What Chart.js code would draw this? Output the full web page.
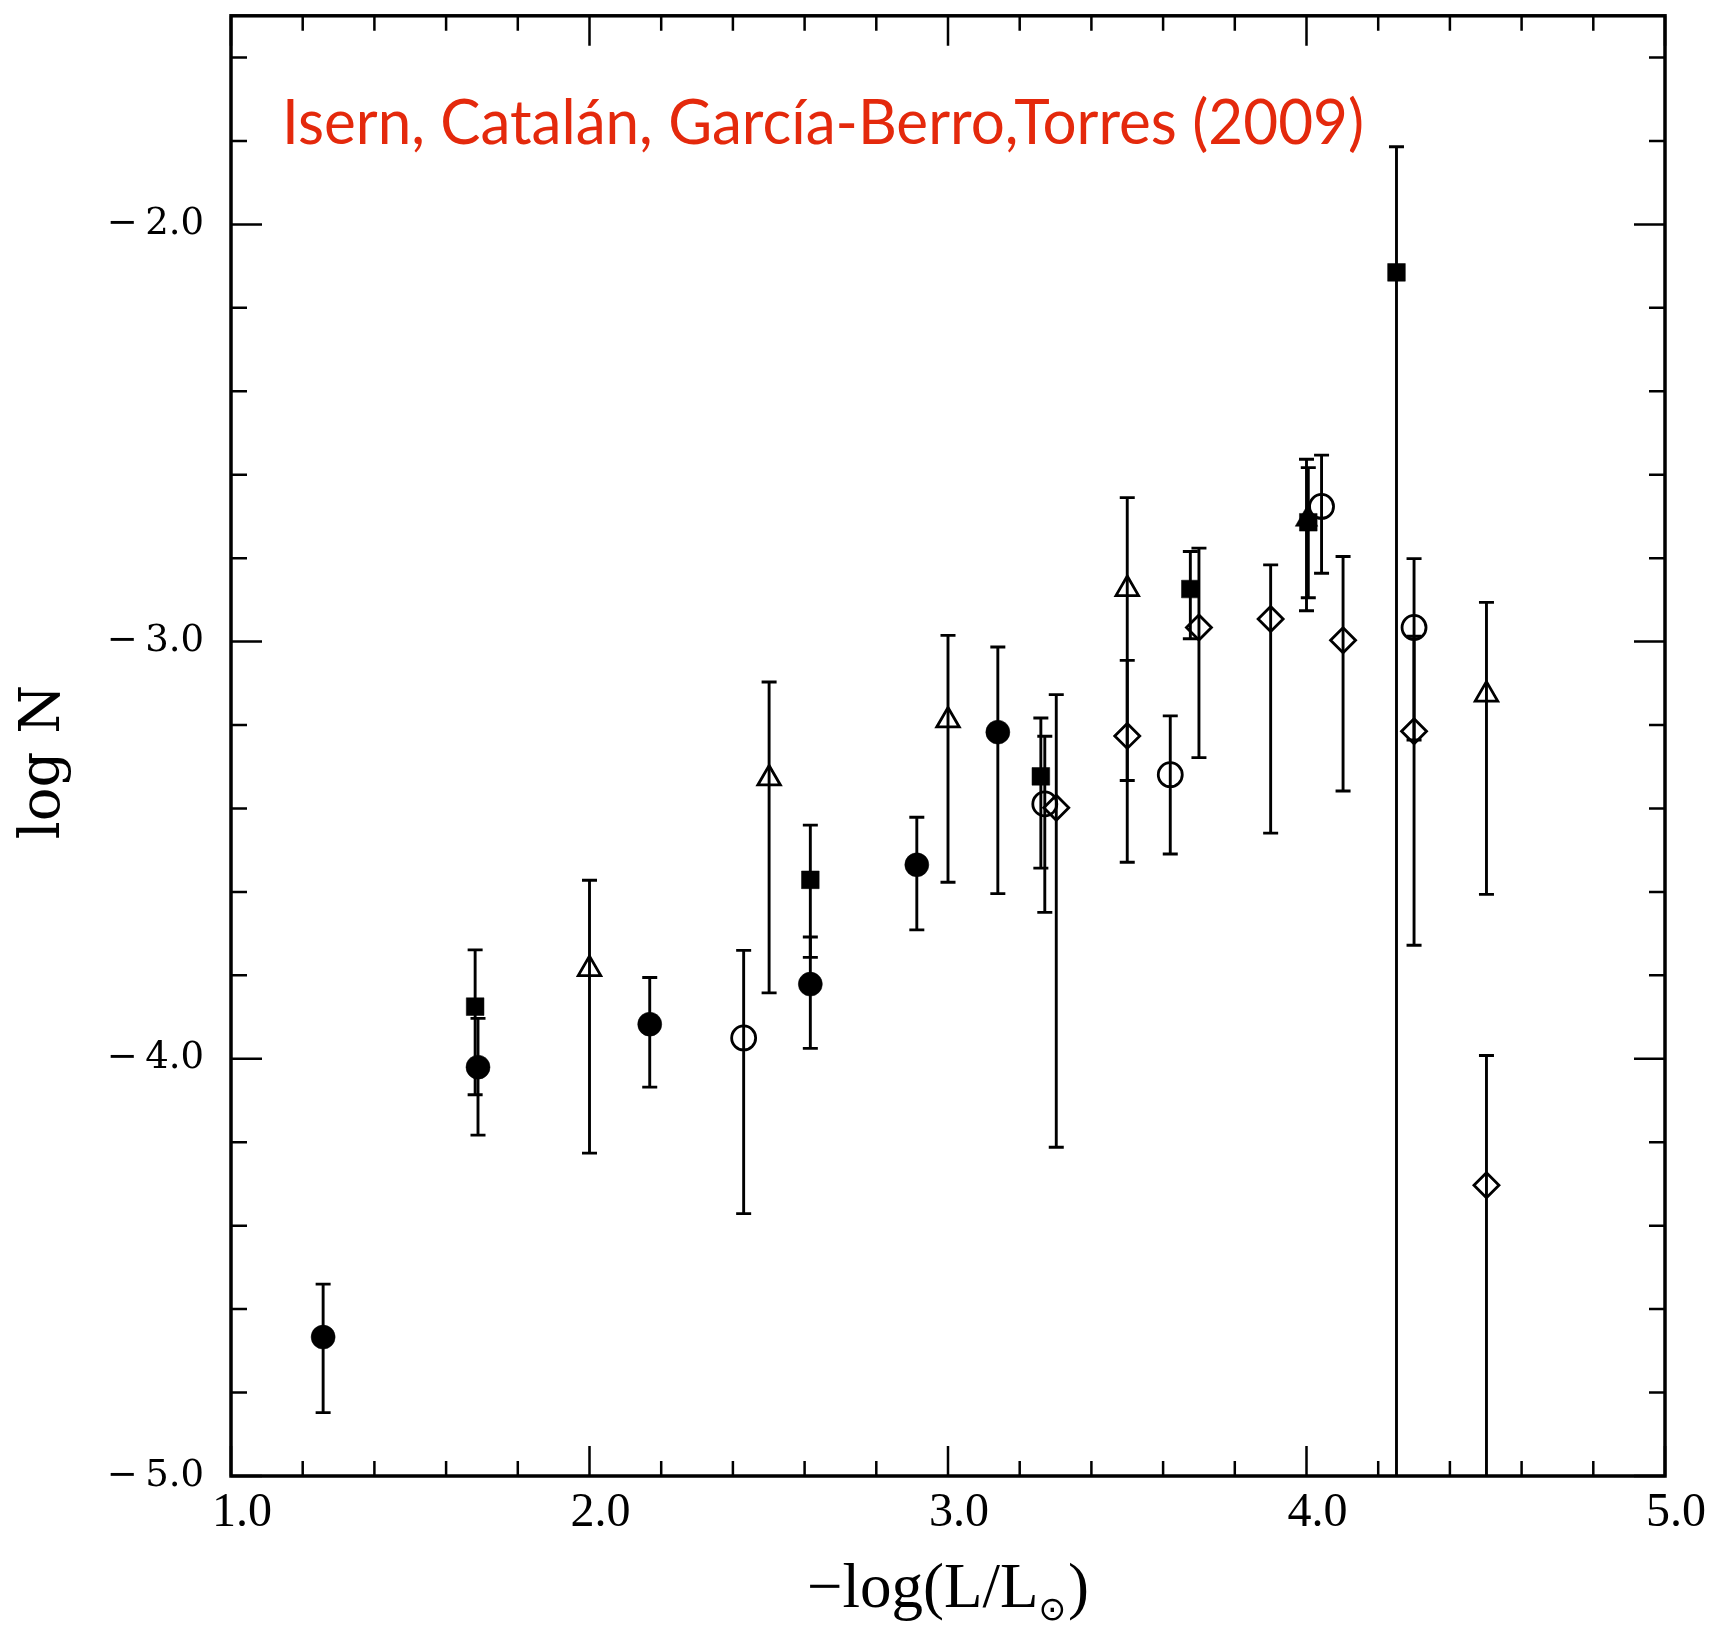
<!DOCTYPE html>
<html>
<head>
<meta charset="utf-8">
<script src="https://cdn.jsdelivr.net/npm/chart.js@4.4.1/dist/chart.umd.min.js"></script>
<style>
html,body{margin:0;padding:0;background:#fff;}
#wrap{width:1719px;height:1627px;position:relative;}
</style>
</head>
<body>
<div id="wrap"><canvas id="c" width="1719" height="1627"></canvas></div>
<script>
// ---------- data (x = -log(L/Lsun), y = log N, hi/lo = error bar ends) ----------
// filled circles
const fcX  = [1.257, 1.689, 2.168, 2.616, 2.913, 3.139];
const fcY  = [-4.667, -4.020, -3.917, -3.821, -3.535, -3.217];
const fcHi = [-4.540, -3.903, -3.805, -3.708, -3.421, -3.013];
const fcLo = [-4.848, -4.183, -4.068, -3.975, -3.691, -3.604];
// filled squares
const fsX  = [1.681, 2.616, 3.259, 3.676, 4.005, 4.251];
const fsY  = [-3.875, -3.571, -3.323, -2.874, -2.714, -2.115];
const fsHi = [-3.739, -3.440, -3.183, -2.784, -2.583, -1.814];
const fsLo = [-4.086, -3.757, -3.543, -2.993, -2.895, -5.600];
// open triangles
const otX  = [2.000, 2.501, 3.000, 3.500, 4.502];
const otY  = [-3.785, -3.328, -3.189, -2.874, -3.127];
const otHi = [-3.572, -3.097, -2.985, -2.655, -2.906];
const otLo = [-4.226, -3.842, -3.577, -3.333, -3.606];
// filled triangle
const ftX  = [4.000];
const ftY  = [-2.708];
const ftHi = [-2.563];
const ftLo = [-2.926];
// open circles
const ocX  = [2.430, 3.270, 3.620, 4.042, 4.300];
const ocY  = [-3.950, -3.389, -3.319, -2.676, -2.966];
const ocHi = [-3.740, -3.227, -3.178, -2.553, -2.801];
const ocLo = [-4.371, -3.649, -3.509, -2.836, -3.236];
// open diamonds
const odX  = [3.302, 3.500, 3.700, 3.900, 4.102, 4.300, 4.502];
const odY  = [-3.398, -3.226, -2.966, -2.946, -2.997, -3.215, -4.303];
const odHi = [-3.127, -3.045, -2.776, -2.816, -2.796, -2.987, -3.992];
const odLo = [-4.212, -3.529, -3.278, -3.459, -3.358, -3.728, -5.600];

// ticks
const xTickValues = [1, 2, 3, 4, 5];
const xTickLabels = ['1.0', '2.0', '3.0', '4.0', '5.0'];
const yTickValues = [-5, -4, -3, -2];
const yTickLabels = ['\u2212\u20095.0', '\u2212\u20094.0', '\u2212\u20093.0', '\u2212\u20092.0'];

const titleText = 'Isern, Catal\u00e1n, Garc\u00eda-Berro,Torres (2009)';
const xTitleMain = '\u2212log(L/L';
const xTitleSub = '\u2299';
const xTitleEnd = ')';
const yTitle = 'log N';

// ---------- build ----------
const series = [
  {x: fcX, y: fcY, hi: fcHi, lo: fcLo, style: 'circle',   filled: true,  r: 12},
  {x: fsX, y: fsY, hi: fsHi, lo: fsLo, style: 'rect',     filled: true,  r: 12.5},
  {x: otX, y: otY, hi: otHi, lo: otLo, style: 'triangle', filled: false, r: 13},
  {x: ftX, y: ftY, hi: ftHi, lo: ftLo, style: 'triangle', filled: true,  r: 13},
  {x: ocX, y: ocY, hi: ocHi, lo: ocLo, style: 'circle',   filled: false, r: 12},
  {x: odX, y: odY, hi: odHi, lo: odLo, style: 'rectRot',  filled: false, r: 12.5}
];

const datasets = series.map(s => ({
  data: s.x.map((v, i) => ({x: v, y: s.y[i]})),
  pointStyle: s.style,
  pointRadius: s.r,
  pointHoverRadius: s.r,
  backgroundColor: s.filled ? '#000' : 'rgba(0,0,0,0)',
  borderColor: '#000',
  pointBorderWidth: s.filled ? 0.5 : 2.8,
  borderWidth: s.filled ? 0.5 : 2.8,
  showLine: false
}));

const isMajor = v => Math.abs(v - Math.round(v)) < 1e-6;

const deco = {
  id: 'deco',
  beforeDatasetsDraw(chart) {
    const {ctx, chartArea: a, scales: {x, y}} = chart;
    ctx.save();
    ctx.beginPath();
    ctx.rect(a.left, a.top, a.right - a.left, a.bottom - a.top);
    ctx.clip();
    ctx.strokeStyle = '#000';
    ctx.lineWidth = 2.9;
    series.forEach(s => {
      for (let i = 0; i < s.x.length; i++) {
        const px = x.getPixelForValue(s.x[i]);
        const ph = y.getPixelForValue(s.hi[i]);
        const pl = y.getPixelForValue(s.lo[i]);
        ctx.beginPath(); ctx.moveTo(px, ph); ctx.lineTo(px, pl); ctx.stroke();
        [ph, pl].forEach(py => {
          if (py > a.top && py < a.bottom) {
            ctx.beginPath(); ctx.moveTo(px - 7.5, py); ctx.lineTo(px + 7.5, py); ctx.stroke();
          }
        });
      }
    });
    ctx.restore();
  },
  afterDraw(chart) {
    const {ctx, chartArea: a, scales: {x, y}} = chart;
    ctx.save();
    ctx.strokeStyle = '#000';
    // ticks (inward, all four sides)
    ctx.lineWidth = 2.5;
    x.ticks.forEach(t => {
      const px = x.getPixelForValue(t.value);
      const len = isMajor(t.value) ? 30 : 15;
      ctx.beginPath();
      ctx.moveTo(px, a.bottom); ctx.lineTo(px, a.bottom - len);
      ctx.moveTo(px, a.top); ctx.lineTo(px, a.top + len);
      ctx.stroke();
    });
    y.ticks.forEach(t => {
      const py = y.getPixelForValue(t.value);
      const len = isMajor(t.value) ? 31 : 16;
      ctx.beginPath();
      ctx.moveTo(a.left, py); ctx.lineTo(a.left + len, py);
      ctx.moveTo(a.right, py); ctx.lineTo(a.right - len, py);
      ctx.stroke();
    });
    // frame
    ctx.lineWidth = 3.5;
    ctx.strokeRect(a.left, a.top, a.right - a.left, a.bottom - a.top);

    // x-axis title with subscript sun symbol
    ctx.fillStyle = '#000';
    ctx.textBaseline = 'alphabetic';
    ctx.textAlign = 'left';
    const mainFont = '63px "Liberation Serif", serif';
    const subFont = '33px "DejaVu Sans", sans-serif';
    ctx.font = mainFont;
    const w1 = ctx.measureText(xTitleMain).width;
    const w3 = ctx.measureText(xTitleEnd).width;
    ctx.font = subFont;
    const w2 = ctx.measureText(xTitleSub).width;
    const total = w1 + w2 + w3 + 2;
    const tx = (a.left + a.right) / 2 - total / 2;
    const base = 1607;
    ctx.font = mainFont;
    ctx.fillText(xTitleMain, tx, base);
    ctx.font = subFont;
    ctx.fillText(xTitleSub, tx + w1, base + 13);
    ctx.font = mainFont;
    ctx.fillText(xTitleEnd, tx + w1 + w2 + 2, base);

    // y-axis title (rotated)
    ctx.save();
    ctx.font = '56px "DejaVu Serif", serif';
    ctx.textAlign = 'center';
    ctx.textBaseline = 'middle';
    ctx.translate(44, 762);
    ctx.rotate(-Math.PI / 2);
    ctx.fillText(yTitle, 0, 0);
    ctx.restore();

    // red title inside the plot
    ctx.font = '62px Lato, "Open Sans", sans-serif';
    ctx.fillStyle = '#e4290c';
    ctx.textAlign = 'left';
    ctx.textBaseline = 'alphabetic';
    const w = ctx.measureText(titleText).width;
    let sx = 1082 / w;
    if (sx < 0.8) sx = 0.8;
    if (sx > 1.2) sx = 1.2;
    ctx.translate(a.left + 51, a.top + 128);
    ctx.scale(sx, 1);
    ctx.fillText(titleText, 0, 0);
    ctx.restore();
  }
};

new Chart(document.getElementById('c'), {
  type: 'scatter',
  data: {datasets},
  options: {
    responsive: false,
    animation: false,
    devicePixelRatio: 1,
    layout: {padding: {left: 0, right: 54, top: 15, bottom: 0}},
    plugins: {legend: {display: false}, tooltip: {enabled: false}, title: {display: false}},
    scales: {
      x: {
        type: 'linear',
        min: 1, max: 5,
        grid: {display: false, drawTicks: false},
        border: {display: false},
        ticks: {
          stepSize: 0.2,
          autoSkip: false,
          maxRotation: 0,
          padding: 9,
          labelOffset: 11,
          color: '#000',
          font: {family: '"Liberation Serif", serif', size: 48},
          callback: v => {
            const i = xTickValues.findIndex(t => Math.abs(t - v) < 1e-6);
            return i >= 0 ? xTickLabels[i] : '';
          }
        },
        title: {display: false},
        afterFit: s => {
          s.height = 151;
          s.paddingLeft = 0; s.paddingRight = 0; s.paddingTop = 0; s.paddingBottom = 0;
        }
      },
      y: {
        type: 'linear',
        min: -5, max: -1.5,
        grid: {display: false, drawTicks: false},
        border: {display: false},
        ticks: {
          stepSize: 0.2,
          includeBounds: false,
          autoSkip: false,
          padding: 27,
          color: '#000',
          font: {family: '"DejaVu Serif", serif', size: 37},
          callback: v => {
            const i = yTickValues.findIndex(t => Math.abs(t - v) < 1e-6);
            return i >= 0 ? yTickLabels[i] : '';
          }
        },
        title: {display: false},
        afterFit: s => {
          s.width = 231;
          s.paddingLeft = 0; s.paddingRight = 0; s.paddingTop = 0; s.paddingBottom = 0;
        }
      }
    }
  },
  plugins: [deco]
});
</script>
</body>
</html>
